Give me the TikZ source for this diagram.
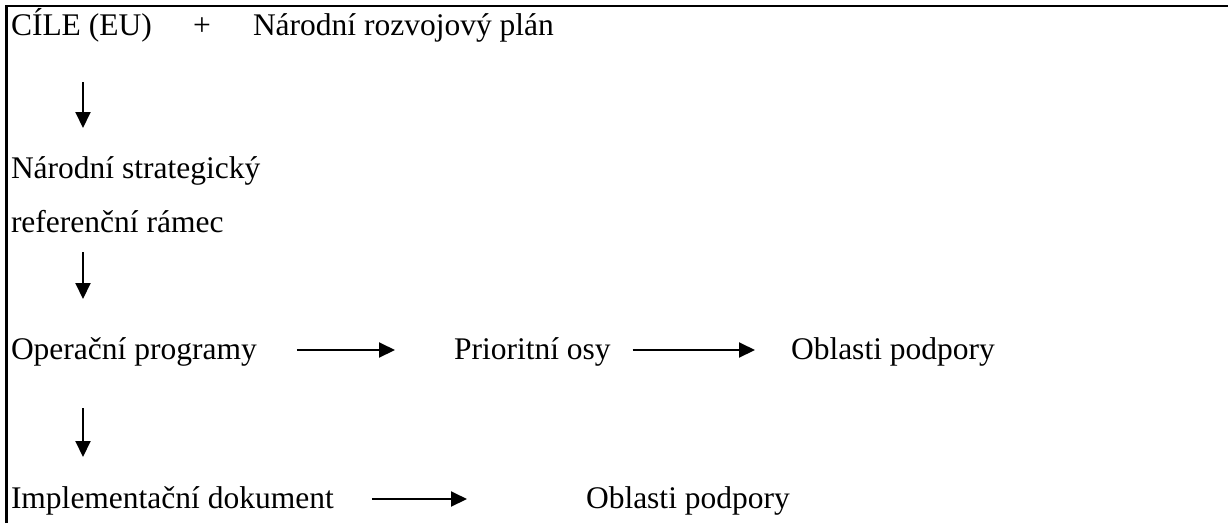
\documentclass[tikz,border=0pt]{standalone}
\usepackage{fontspec}
\setmainfont{Liberation Serif}
\usetikzlibrary{arrows.meta}
\begin{document}
\begin{tikzpicture}[x=1pt,y=-1pt,
  lbl/.style={anchor=base west,inner sep=0pt,outer sep=0pt,font=\fontsize{31.5}{38}\selectfont},
  arr/.style={line width=2pt,-{Triangle[length=16pt,width=15pt]}},
  frame/.style={line width=2.5pt}]
\useasboundingbox (0,0) rectangle (1228,523);
% frame
\draw[frame] (6.3,523) -- (6.3,6.2) -- (1228,6.2);
% nodes
\node[lbl] (cile) at (11,35) {CÍLE (EU)};
\node[lbl] (plus) at (193,35) {+};
\node[lbl] (nrp) at (253,35) {Národní rozvojový plán};
\node[lbl] (nsrr1) at (11,178) {Národní strategický};
\node[lbl] (nsrr2) at (11,232) {referenční rámec};
\node[lbl] (op) at (11,359) {Operační programy};
\node[lbl] (po) at (454,359) {Prioritní osy};
\node[lbl] (obl1) at (791,359) {Oblasti podpory};
\node[lbl] (impl) at (11,508) {Implementační dokument};
\node[lbl] (obl2) at (586,508) {Oblasti podpory};
% vertical arrows
\coordinate (v1a) at (83,82);  \coordinate (v1b) at (83,128);
\coordinate (v2a) at (83,252); \coordinate (v2b) at (83,299);
\coordinate (v3a) at (83,408); \coordinate (v3b) at (83,457);
\draw[arr] (v1a) -- (v1b);
\draw[arr] (v2a) -- (v2b);
\draw[arr] (v3a) -- (v3b);
% horizontal arrows
\draw[arr,shorten <=40pt,shorten >=59pt] ([yshift=9pt]op.base east) -- ([yshift=9pt]po.base west);
\draw[arr,shorten <=22pt,shorten >=36pt] ([yshift=9pt]po.base east) -- ([yshift=9pt]obl1.base west);
\draw[arr,shorten <=38pt,shorten >=119pt] ([yshift=9pt]impl.base east) -- ([yshift=9pt]obl2.base west);
\end{tikzpicture}
\end{document}
